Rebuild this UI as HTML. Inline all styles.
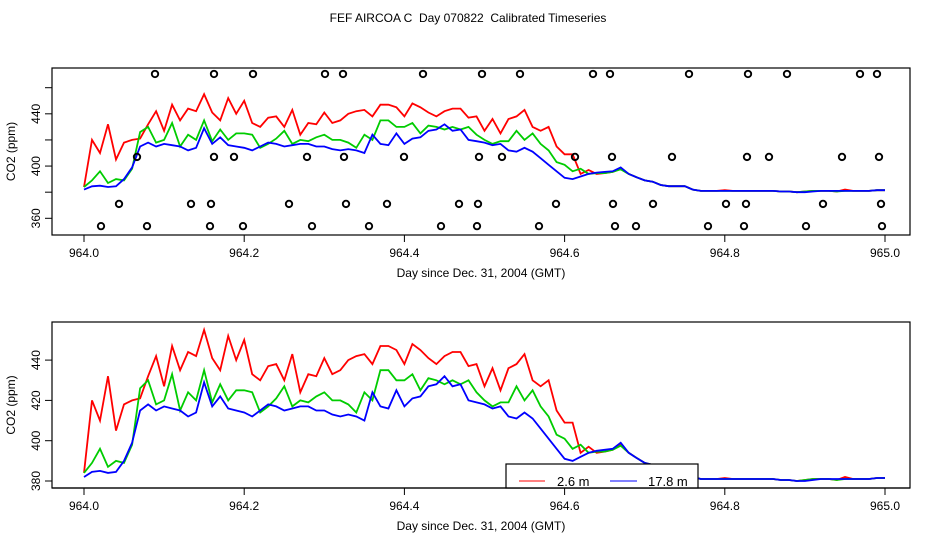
<!DOCTYPE html>
<html><head><meta charset="utf-8"><style>
body{margin:0;background:#fff;}
svg{display:block;font-family:"Liberation Sans",sans-serif;}
</style></head><body>
<svg id="c" width="936" height="540" viewBox="0 0 936 540"></svg>
<script>
const days=[];for(let k=0;k<=100;k++)days.push(964+k*0.01);
const red=[384,420,410,432,405,418,420,421,432,442,427,447,435,444,442,455,441,435,452,440,450,433,430,437,438,430,443,424,433,432,441,433,435,440,442,443,438,447,447,445,438,448,445,441,438,442,444,444,437,438,427,436,425,436,438,443,430,427,430,415,409,409,394,397,394,394.6,395.5,398,394,391.4,389,388,385.5,384.6,384.6,384.6,382,381,381,381,381.5,381,381,381,381,381,381,380.5,380.5,380,380.5,381,381,381,380.5,382,381,381,381,381.5,381.5];
const green=[384,389,396,387,390,389,398,426,430,418,420,433,415,424,420,435,419,428,420,425,425,424,414,417,421,427,417,420,419,422,424,420,420,418,414,424,420,435,435,430,430,433,425,431,430,428,430,428,430,424,420,417,419,419,427,420,425,417,412,403,401,396,398,394,394.6,394.6,395.5,397.5,394,391.4,389,388,385.5,384.6,384.6,384.6,382,381,381,381,381,381,381,381,381,381,381,380.5,380.5,380,380.5,381,381,381,380.5,381,381,381,381,381.5,381.5];
const blue=[382,384.5,385,384,384.5,390,399,415,418,415,417,416,415,412,414,429,417,422,416,415,414,412,415,418,417,415,416,417,417,415,415,413,412,413,412,410,424,417,416,425,417,421,422,427,428,432,427,428,420,419,418,416,417,412,411,414,411,406,401,396,391,390,392,394,395,395.5,396,399,394,391.4,389,388,385.5,384.6,384.6,384.6,382,381,381,381,381,381,381,381,381,381,381,380.5,380.5,380,380,380.5,381,381,381,381,381,381,381,381.5,381.5];
const circDays=[155,214,253,325,343,423,482,520,593,610,689,748,787,860,877, 137,214,234,307,344,404,479,502,575,612,672,747,769,842,879, 119,191,211,289,346,387,459,478,556,613,653,726,746,823,881, 101,147,210,243,312,369,441,477,539,615,636,708,744,806,882].map(x=>964+(x-84)/801);
const circVals=[].concat(Array(15).fill(470.5),Array(15).fill(407),Array(15).fill(371),Array(15).fill(354));
const xTicks=[964.0,964.2,964.4,964.6,964.8,965.0];
const topYTicks=[360,380,400,420,440,460], topYLabels=[360,400,440];
const botYTicks=[380,400,420,440];

const NS="http://www.w3.org/2000/svg",svg=document.getElementById('c');
function el(t,a,p){const e=document.createElementNS(NS,t);for(const k in a)e.setAttribute(k,a[k]);(p||svg).appendChild(e);return e;}
const X=d=>84+(d-964)*801;
function txt(s,x,y,a,p){const e=el('text',Object.assign({x:x,y:y,'font-size':12,'text-anchor':'middle',fill:'#000'},a||{}),p);e.textContent=s;return e;}

const t=txt('FEF AIRCOA C  Day 070822  Calibrated Timeseries',468,22,{style:'white-space:pre'});



function panel(name,top,bot,Y,yt,yl,circles){
  const g=el('g',{});
  
  
  const cid='clip'+name;
  const cp=el('clipPath',{id:cid},g);el('rect',{x:52,y:top,width:858,height:bot-top},cp);
  const lines=el('g',{'clip-path':'url(#'+cid+')'},g);
  [[red,'#ff0000','series-2-6m'],[green,'#00cc00','series-mid'],[blue,'#0000ff','series-17-8m']].forEach(s=>{
    const p=el('polyline',{points:s[0].map((v,i)=>X(days[i]).toFixed(1)+','+Y(v).toFixed(1)).join(' '),fill:'none',stroke:s[1],'stroke-width':1.8},lines);
    
    
  });
  if(circles){circDays.forEach((d,i)=>{const c=el('circle',{cx:X(d),cy:Y(circVals[i]),r:3.2,fill:'none',stroke:'#000','stroke-width':1.9},lines);
    
    });}
  const box=el('rect',{x:52,y:top,width:858,height:bot-top,fill:'none',stroke:'#000','stroke-width':1.2},g);
  
  
  xTicks.forEach(v=>{el('line',{x1:X(v),x2:X(v),y1:bot,y2:bot+7,stroke:'#000'},g);
    const l=txt(v.toFixed(1),X(v),bot+22,{},g);
    
    });
  const xt=txt('Day since Dec. 31, 2004 (GMT)',481,bot+42,{},g);
  
  
  yt.forEach(v=>el('line',{x1:45,x2:52,y1:Y(v),y2:Y(v),stroke:'#000'},g));
  yl.forEach(v=>{const l=txt(String(v),40,Y(v),{transform:'rotate(-90 40 '+Y(v)+')'},g);
    
    });
  const ym=(top+bot)/2;
  const yt2=txt('CO2 (ppm)',15,ym,{transform:'rotate(-90 15 '+ym+')'},g);
  
  
  return g;
}
panel('top-panel',68,235,v=>218.3-(v-360)*1.306,topYTicks,topYLabels,true);
const g2=panel('bottom-panel',322,488,v=>481-(v-380)*2.015,botYTicks,botYTicks,false);
const lg=el('g',{},g2);


el('rect',{x:506,y:464,width:192,height:24,fill:'#fff',stroke:'#000','stroke-width':1.2},lg);
el('line',{x1:519,x2:545,y1:481,y2:481,stroke:'#ff0000'},lg);
txt('2.6 m',557,486,{'text-anchor':'start','font-size':13},lg);
el('line',{x1:610,x2:637,y1:481,y2:481,stroke:'#0000ff'},lg);
txt('17.8 m',648,486,{'text-anchor':'start','font-size':13},lg);
el('line',{x1:52,x2:910,y1:488,y2:488,stroke:'#000','stroke-width':1.2},lg);
</script>
</body></html>
